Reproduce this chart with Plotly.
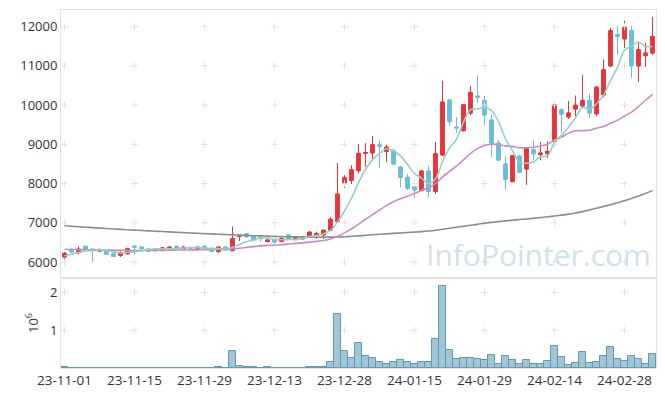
import plotly.graph_objects as go

dates = (
    ["23-11-%02d" % d for d in [1, 2, 3, 6, 7, 8, 9, 10, 13, 14, 15, 16, 17, 20, 21, 22, 23, 24, 27, 28, 29, 30]]
    + ["23-12-%02d" % d for d in [1, 4, 5, 6, 7, 8, 11, 12, 13, 14, 15, 18, 19, 20, 21, 22, 26, 27, 28]]
    + ["24-01-%02d" % d for d in [2, 3, 4, 5, 8, 9, 10, 11, 12, 15, 16, 17, 18, 19, 22, 23, 24, 25, 26, 29, 30, 31]]
    + ["24-02-%02d" % d for d in [1, 2, 5, 6, 7, 8, 13, 14, 15, 16, 19, 20, 21, 22, 23, 26, 27, 28, 29]]
    + ["24-03-%02d" % d for d in [4, 5, 6]]
)

opens = [6130, 6320, 6240, 6400, 6330, 6280, 6290, 6210, 6170, 6210,
         6400, 6380, 6330, 6290, 6290, 6340, 6400, 6340, 6370, 6340,
         6400, 6350, 6270, 6380, 6290, 6650, 6720, 6660, 6620, 6525,
         6580, 6520, 6690, 6570, 6590, 6650, 6690, 6690, 6810, 7030,
         8000, 8080, 8330, 8770, 8780, 8990, 8820, 8840, 8420, 8160,
         7920, 7820, 8320, 7800, 8730, 10130, 9440, 9350, 9800, 10230,
         10110, 9620, 9030, 8500, 8050, 8700, 8370, 8860, 8740, 8760,
         9070, 9880, 9700, 9900, 9980, 10120, 9780, 10260, 11000, 11800,
         11690, 11900, 11000, 11260, 11330]
highs = [6250, 6340, 6390, 6410, 6340, 6340, 6310, 6220, 6270, 6360,
         6420, 6400, 6340, 6350, 6380, 6390, 6410, 6410, 6390, 6390,
         6410, 6360, 6390, 6390, 6900, 6690, 6740, 6670, 6690, 6580,
         6590, 6630, 6700, 6660, 6650, 6790, 6770, 6820, 7140, 8520,
         8210, 8460, 9010, 9030, 9200, 9090, 8990, 8880, 8450, 8240,
         8020, 8330, 8450, 9060, 10620, 10150, 9690, 10020, 10490, 10750,
         10230, 9750, 9110, 8690, 8730, 8720, 8920, 9100, 9060, 9070,
         10020, 9920, 10100, 10240, 10770, 10290, 10470, 11160, 11970, 12010,
         12150, 12010, 11620, 11580, 12250]
lows = [6070, 6240, 6200, 6320, 6010, 6260, 6190, 6130, 6130, 6190,
        6190, 6330, 6260, 6280, 6280, 6330, 6330, 6330, 6330, 6330,
        6310, 6260, 6230, 6300, 6280, 6540, 6630, 6550, 6520, 6500,
        6460, 6510, 6580, 6560, 6580, 6640, 6590, 6590, 6800, 7000,
        7890, 7990, 8260, 8430, 8620, 8410, 8560, 8490, 7910, 7830,
        7630, 7810, 7650, 7730, 8700, 9480, 9290, 9330, 9750, 10050,
        9480, 8690, 8590, 7840, 8040, 8270, 7970, 8600, 8600, 8650,
        8930, 9290, 9650, 9670, 9920, 9670, 9720, 10200, 10990, 11300,
        11460, 10690, 10600, 10980, 11290]
closes = [6220, 6255, 6330, 6330, 6310, 6310, 6200, 6140, 6230, 6340,
          6380, 6340, 6270, 6340, 6360, 6380, 6340, 6380, 6355, 6380,
          6320, 6270, 6380, 6310, 6600, 6680, 6640, 6560, 6605, 6560,
          6510, 6600, 6590, 6650, 6640, 6760, 6720, 6810, 7090, 7730,
          8150, 8350, 8770, 8790, 8990, 8950, 8930, 8500, 8160, 7880,
          7840, 8320, 7800, 8760, 10080, 9580, 9420, 10010, 10320, 10200,
          9750, 9030, 8600, 8110, 8710, 8280, 8900, 8760, 8780, 8820,
          10010, 9770, 9800, 10000, 10110, 9800, 10460, 10900, 11900, 11750,
          11990, 11000, 11410, 11330, 11750]

ma5 = [6160, 6200, 6240, 6280, 6289, 6307, 6296, 6258, 6238, 6244,
       6258, 6286, 6312, 6334, 6338, 6338, 6338, 6360, 6363, 6367,
       6355, 6341, 6341, 6332, 6376, 6448, 6522, 6558, 6617, 6609,
       6575, 6567, 6573, 6582, 6598, 6648, 6672, 6716, 6804, 7022,
       7300, 7626, 8018, 8358, 8610, 8770, 8886, 8832, 8706, 8484,
       8262, 8140, 8000, 8120, 8560, 8908, 9128, 9570, 9882, 9906,
       9940, 9862, 9580, 9138, 8840, 8546, 8520, 8552, 8686, 8708,
       9054, 9228, 9436, 9680, 9938, 9896, 10034, 10254, 10634, 10962,
       11400, 11508, 11610, 11496, 11496]
ma20 = [6325, 6320, 6318, 6315, 6312, 6308, 6305, 6300, 6297, 6295,
        6293, 6293, 6295, 6297, 6300, 6302, 6305, 6307, 6308, 6310,
        6315, 6316, 6318, 6317, 6332, 6350, 6372, 6393, 6412, 6423,
        6429, 6442, 6458, 6474, 6488, 6507, 6526, 6547, 6584, 6652,
        6743, 6847, 6966, 7090, 7210, 7323, 7438, 7535, 7613, 7679,
        7745, 7831, 7892, 7997, 8169, 8310, 8445, 8605, 8767, 8890,
        8970, 9004, 8996, 8962, 8948, 8914, 8913, 8926, 8957, 9004,
        9113, 9185, 9285, 9347, 9348, 9359, 9411, 9456, 9535, 9612,
        9724, 9823, 9963, 10124, 10276]
ma120 = [6925, 6912, 6900, 6888, 6876, 6865, 6854, 6843, 6833, 6823,
         6813, 6803, 6794, 6785, 6776, 6767, 6758, 6749, 6740, 6732,
         6724, 6716, 6708, 6700, 6692, 6685, 6678, 6671, 6665, 6659,
         6653, 6648, 6643, 6639, 6636, 6634, 6633, 6633, 6634, 6638,
         6645, 6655, 6667, 6680, 6693, 6706, 6718, 6730, 6741, 6752,
         6763, 6775, 6790, 6810, 6835, 6860, 6885, 6910, 6935, 6960,
         6990, 7010, 7030, 7048, 7065, 7082, 7098, 7115, 7133, 7152,
         7172, 7195, 7220, 7250, 7285, 7325, 7370, 7415, 7460, 7510,
         7565, 7620, 7680, 7750, 7820]

volume_m = [0.03, 0.01, 0.01, 0.01, 0.01, 0.01, 0.01, 0.01, 0.01, 0.01,
            0.01, 0.01, 0.01, 0.01, 0.01, 0.01, 0.01, 0.01, 0.01, 0.01,
            0.01, 0.01, 0.03, 0.01, 0.46, 0.06, 0.03, 0.03, 0.01, 0.03,
            0.01, 0.01, 0.01, 0.01, 0.01, 0.03, 0.03, 0.03, 0.15, 1.42,
            0.44, 0.27, 0.65, 0.31, 0.27, 0.15, 0.11, 0.15, 0.20, 0.17,
            0.11, 0.17, 0.17, 0.78, 2.17, 0.48, 0.23, 0.27, 0.27, 0.24,
            0.22, 0.35, 0.11, 0.32, 0.22, 0.11, 0.22, 0.11, 0.11, 0.19,
            0.59, 0.30, 0.085, 0.13, 0.43, 0.13, 0.16, 0.32, 0.56, 0.24,
            0.19, 0.32, 0.24, 0.11, 0.38]

price_ticks = [6000, 7000, 8000, 9000, 10000, 11000, 12000]
volume_ticks = [1, 2]
date_ticks = dates[::10]

FONT = "Open Sans"
GRID = "#e2e2e2"
AXIS = "#e3e3e3"

fig = go.Figure()

# candles first so the category order follows the dates
fig.add_trace(go.Candlestick(
    x=dates, open=opens, high=highs, low=lows, close=closes,
    xaxis="x", yaxis="y",
    increasing=dict(line=dict(color="#e8343a", width=1), fillcolor="#e8343a"),
    decreasing=dict(line=dict(color="#68bfda", width=1), fillcolor="#68bfda"),
    whiskerwidth=0,
))
fig.add_trace(go.Bar(
    x=dates, y=volume_m, xaxis="x2", yaxis="y2",
    marker=dict(color="rgba(135,182,204,0.8)", line=dict(color="#6399b2", width=1)),
))

# grid crosses
fig.add_trace(go.Scatter(
    x=[d for d in date_ticks for _ in price_ticks],
    y=[p for _ in date_ticks for p in price_ticks],
    mode="markers", xaxis="x", yaxis="y", hoverinfo="skip",
    marker=dict(symbol="cross-thin", size=5, line=dict(color=GRID, width=1)),
))
fig.add_trace(go.Scatter(
    x=[d for d in date_ticks for _ in volume_ticks],
    y=[v for _ in date_ticks for v in volume_ticks],
    mode="markers", xaxis="x2", yaxis="y2", hoverinfo="skip",
    marker=dict(symbol="cross-thin", size=5, line=dict(color=GRID, width=1)),
))

fig.add_trace(go.Scatter(x=dates, y=ma120, mode="lines", xaxis="x", yaxis="y",
                         line=dict(color="#8c8c8c", width=1.6, shape="spline")))
fig.add_trace(go.Scatter(x=dates, y=ma20, mode="lines", xaxis="x", yaxis="y",
                         line=dict(color="#c98bc6", width=1.6, shape="spline")))
fig.add_trace(go.Scatter(x=dates, y=ma5, mode="lines", xaxis="x", yaxis="y",
                         line=dict(color="#92d1c6", width=1.6, shape="spline")))

# redraw candles on top of the averages
fig.add_trace(go.Candlestick(
    x=dates, open=opens, high=highs, low=lows, close=closes,
    xaxis="x", yaxis="y",
    increasing=dict(line=dict(color="#e8343a", width=1), fillcolor="#e8343a"),
    decreasing=dict(line=dict(color="#68bfda", width=1), fillcolor="#68bfda"),
    whiskerwidth=0,
))

fig.add_annotation(
    text="InfoPointer.com", xref="paper", yref="paper", x=0.802, y=0.318,
    xanchor="center", yanchor="middle", showarrow=False,
    font=dict(family=FONT, size=30, color="rgba(175,205,220,0.62)"),
)

vol_frac = 90 / 358
common_x = dict(type="category", categoryorder="array", categoryarray=dates,
                range=[-0.5, len(dates) - 0.5], showgrid=False,
                showline=True, linecolor=AXIS, linewidth=1, mirror=True,
                zeroline=False, ticks="", fixedrange=True)
fig.update_layout(
    width=657, height=388,
    margin=dict(l=53, r=9, t=2, b=28),
    paper_bgcolor="white", plot_bgcolor="white",
    showlegend=False, bargap=0, boxgap=0.3,
    font=dict(family=FONT, size=13, color="#333333"),
    xaxis=dict(common_x, anchor="y", showticklabels=False, rangeslider=dict(visible=False)),
    xaxis2=dict(common_x, anchor="y2", matches="x", tickmode="array",
                tickvals=date_ticks, ticktext=date_ticks, tickangle=0,
                tickfont=dict(family=FONT, size=13.5, color="#333333")),
    yaxis=dict(domain=[vol_frac, 1], range=[5592, 12426], tickmode="array",
               tickvals=price_ticks, ticktext=[str(p) for p in price_ticks],
               showgrid=False, showline=True, linecolor=AXIS, mirror=True,
               zeroline=False, ticks=""),
    yaxis2=dict(domain=[0, vol_frac], range=[0, 2.38], tickmode="array",
                tickvals=volume_ticks, ticktext=[str(v) for v in volume_ticks],
                showgrid=False, showline=True, linecolor=AXIS, mirror=True,
                zeroline=False, ticks="",
                title=dict(text="10<sup>6</sup>", standoff=8, font=dict(size=13))),
)

fig.write_html("out.html")
